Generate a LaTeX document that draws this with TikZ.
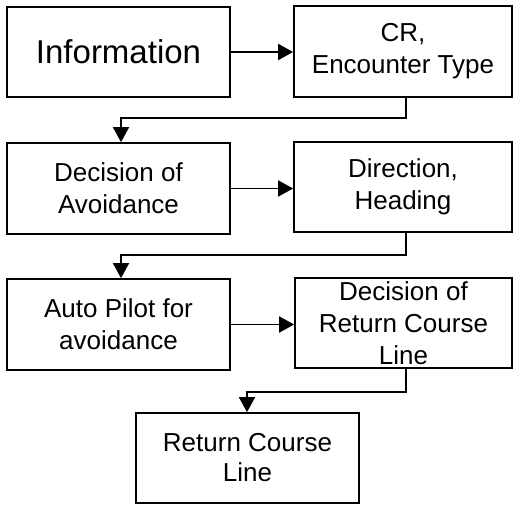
\documentclass[tikz,border=0pt]{standalone}
\usepackage{fontspec}
\setmainfont{Liberation Sans}
\usetikzlibrary{arrows.meta}
\begin{document}
\begin{tikzpicture}[x=1pt,y=-1pt,
  box/.style={draw,line width=1.7pt,rectangle,inner sep=0pt,align=center,
    font=\fontsize{26}{32}\selectfont},
  conn/.style={line width=1.7pt,-{Triangle[length=15pt,width=16pt]}}]
\useasboundingbox (0,0) rectangle (515,506);
\node[box,minimum width=223pt,minimum height=90pt,font=\fontsize{33}{38}\selectfont] (info) at (118.5,52) {Information};
\node[box,minimum width=218pt,minimum height=91pt] (cr) at (403,51.5) {CR,\\Encounter Type};
\node[box,minimum width=223pt,minimum height=91pt] (dec) at (118.5,188.5) {Decision of\\Avoidance};
\node[box,minimum width=218pt,minimum height=90pt] (dir) at (403,187) {Direction,\\Heading};
\node[box,minimum width=223pt,minimum height=91pt] (auto) at (118.5,324.5) {Auto Pilot for\\avoidance};
\node[box,minimum width=217pt,minimum height=90pt,font=\fontsize{26}{32}\selectfont] (decret) at (403.5,323) {Decision of\\Return Course\\Line};
\node[box,minimum width=223pt,minimum height=90pt,font=\fontsize{26}{30}\selectfont] (ret) at (247.5,458) {Return Course\\Line};
\coordinate (c1) at (406,118);
\coordinate (c2) at (121,118);
\coordinate (c3) at (406,255);
\coordinate (c4) at (121,255);
\coordinate (c5) at (406,392);
\coordinate (c6) at (247,392);
\draw[conn] (info.east) -- (cr.west |- info.east);
\draw[conn] (dec.east) -- (dir.west |- dec.east);
\draw[conn] (auto.east) -- (decret.west |- auto.east);
\draw[conn] (c1 |- cr.south) -- (c1) -- (c2) -- (c2 |- dec.north);
\draw[conn] (c3 |- dir.south) -- (c3) -- (c4) -- (c4 |- auto.north);
\draw[conn] (c5 |- decret.south) -- (c5) -- (c6) -- (c6 |- ret.north);
\end{tikzpicture}
\end{document}
